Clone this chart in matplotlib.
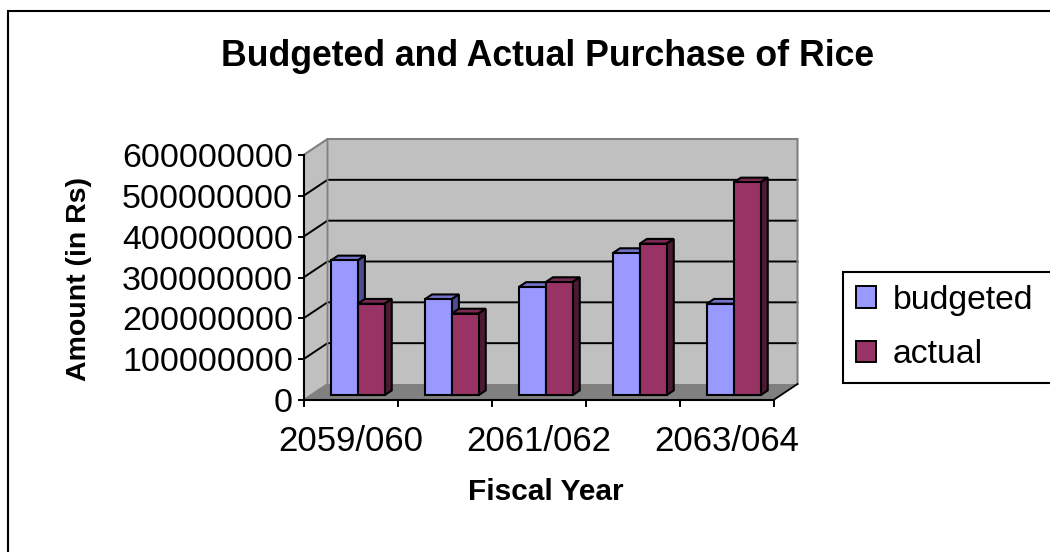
"""Excel-style 3D clustered column chart: budgeted vs actual rice purchase."""

import matplotlib

matplotlib.use("Agg")
import matplotlib.pyplot as plt
import numpy as np
from matplotlib.patches import Polygon, Rectangle
from matplotlib.ticker import FuncFormatter
from matplotlib.transforms import offset_copy

# ---- data ----
years = ["2059/060", "2060/061", "2061/062", "2062/063", "2063/064"]
budgeted = [330e6, 235e6, 265e6, 348e6, 224e6]
actual = [224e6, 200e6, 277e6, 371e6, 521e6]
series_names = ["budgeted", "actual"]
y_ticks = [0, 100e6, 200e6, 300e6, 400e6, 500e6, 600e6]

# ---- look ----
W, H, DPI = 1050, 552, 100
DEPTH = (24.0, 16.0)          # floor depth in pixels (dx, dy)
BAR_FRONT, BAR_BACK = 0.3, 0.6  # bar depth as fraction of floor depth
GAP = 0.75                     # half of Excel's 150% gap width, in bar widths
front_colors = ["#9999FF", "#993366"]
top_colors = ["#7373CC", "#7A2952"]
side_colors = ["#4D4D8F", "#4D1A33"]
WALL = "#C0C0C0"
FLOOR = "#808080"
EDGE_W = 1.5

plt.rcParams["font.family"] = ["Liberation Sans", "DejaVu Sans"]

fig = plt.figure(figsize=(W / DPI, H / DPI), dpi=DPI)
ax = fig.add_axes([303.5 / W, 152 / H, 470 / W, 245 / H])
ax.patch.set_visible(False)
ax.set_xlim(0, len(years))
ax.set_ylim(y_ticks[0], y_ticks[-1])
ax.set_autoscale_on(False)


def fig_pt(x, y, depth):
    """Data point pushed back by a fraction of the floor depth, in figure coords."""
    px, py = ax.transData.transform((x, y))
    px += DEPTH[0] * depth
    py += DEPTH[1] * depth
    return fig.transFigure.inverted().transform((px, py))


def poly(points, **kw):
    p = Polygon(points, closed=True, transform=fig.transFigure, clip_on=False, **kw)
    ax.add_patch(p)
    return p


def seg(points, color, lw, zorder):
    pts = np.array(points)
    ax.add_line(plt.Line2D(pts[:, 0], pts[:, 1], transform=fig.transFigure,
                           color=color, lw=lw, clip_on=False, zorder=zorder,
                           solid_joinstyle="miter"))


n = len(years)
ymax = y_ticks[-1]

# walls and floor
poly([fig_pt(0, 0, 1), fig_pt(n, 0, 1), fig_pt(n, ymax, 1), fig_pt(0, ymax, 1)],
     facecolor=WALL, edgecolor="none", zorder=0.5)
poly([fig_pt(0, 0, 0), fig_pt(0, 0, 1), fig_pt(0, ymax, 1), fig_pt(0, ymax, 0)],
     facecolor=WALL, edgecolor="none", zorder=0.5)
poly([fig_pt(0, 0, 0), fig_pt(n, 0, 0), fig_pt(n, 0, 1), fig_pt(0, 0, 1)],
     facecolor=FLOOR, edgecolor="none", zorder=0.6)

# gridlines: diagonal on the side wall, then across the back wall
for v in y_ticks[1:-1]:
    seg([fig_pt(0, v, 0), fig_pt(0, v, 1), fig_pt(n, v, 1)], "black", 1.4, 0.8)

# wall outlines
seg([fig_pt(0, ymax, 0), fig_pt(0, ymax, 1), fig_pt(n, ymax, 1), fig_pt(n, 0, 1)],
    "#808080", 1.5, 0.9)
seg([fig_pt(0, 0, 0), fig_pt(0, 0, 1), fig_pt(0, ymax, 1)], "#808080", 1.3, 0.9)
seg([fig_pt(n, 0, 0), fig_pt(n, 0, 1)], "black", 1.3, 0.9)

# bars
bar_w = 1.0 / (2 + 2 * GAP)
front_tr = offset_copy(ax.transData, fig=fig, x=DEPTH[0] * BAR_FRONT,
                       y=DEPTH[1] * BAR_FRONT, units="dots")
z = 2
for i in range(n):
    for s, values in enumerate([budgeted, actual]):
        x0 = i + bar_w * GAP + s * bar_w
        x1 = x0 + bar_w
        v = values[i]
        ax.bar(x0, v, bar_w, align="edge", transform=front_tr, color=front_colors[s],
               edgecolor="black", linewidth=EDGE_W, zorder=z + 0.2)
        poly([fig_pt(x0, v, BAR_FRONT), fig_pt(x1, v, BAR_FRONT),
              fig_pt(x1, v, BAR_BACK), fig_pt(x0, v, BAR_BACK)],
             facecolor=top_colors[s], edgecolor="black", linewidth=EDGE_W, zorder=z)
        poly([fig_pt(x1, 0, BAR_FRONT), fig_pt(x1, 0, BAR_BACK),
              fig_pt(x1, v, BAR_BACK), fig_pt(x1, v, BAR_FRONT)],
             facecolor=side_colors[s], edgecolor="black", linewidth=EDGE_W, zorder=z)
        z += 1

# axes
for side in ["top", "right"]:
    ax.spines[side].set_visible(False)
for side in ["left", "bottom"]:
    ax.spines[side].set_linewidth(1.5)
    ax.spines[side].set_zorder(1)

ax.set_yticks(y_ticks)
ax.yaxis.set_major_formatter(FuncFormatter(lambda v, _: f"{int(round(v))}"))
ax.tick_params(axis="y", direction="out", length=4.5, width=1.4, pad=3, labelsize=24.5)

ax.set_xticks(np.arange(n + 1))
ax.set_xticklabels([])
ax.tick_params(axis="x", which="major", direction="out", length=5, width=1.4)
ax.set_xticks(np.arange(n) + 0.5, minor=True)
ax.set_xticklabels([y if i % 2 == 0 else "" for i, y in enumerate(years)], minor=True)
ax.tick_params(axis="x", which="minor", length=0, pad=18, labelsize=25)

# titles
fig.text(548 / W, 1 - 57 / H, "Budgeted and Actual Purchase of Rice",
         ha="center", va="center", fontsize=25.7, fontweight="bold")
fig.text(79 / W, 1 - 279 / H, "Amount (in Rs)", rotation=90,
         ha="center", va="center", fontsize=20.5, fontweight="bold")
fig.text(546 / W, 1 - 492 / H, "Fiscal Year",
         ha="center", va="center", fontsize=21.5, fontweight="bold")

# legend (runs off the right edge like the original)
handles = [Rectangle((0, 0), 1, 1, facecolor=c, edgecolor="black", linewidth=1.4)
           for c in front_colors]
leg = fig.legend(handles, series_names, loc="center left", mode="expand",
                 bbox_to_anchor=(843 / W, (H - 384) / H, 320 / W, 113 / H),
                 borderaxespad=0, fontsize=24.3, handlelength=0.6, handleheight=0.6,
                 handletextpad=0.5, labelspacing=0.7, borderpad=0.38,
                 fancybox=False, shadow=False, framealpha=1)
leg.get_frame().set_edgecolor("black")
leg.get_frame().set_linewidth(1.5)

# chart area border, cropped on the right and bottom
fig.add_artist(Rectangle((8 / W, -0.5), 2, 0.5 + (H - 10.5) / H, transform=fig.transFigure,
                         fill=False, edgecolor="black", linewidth=1.5))

fig.savefig("out.png", dpi=DPI)
plt.close(fig)
